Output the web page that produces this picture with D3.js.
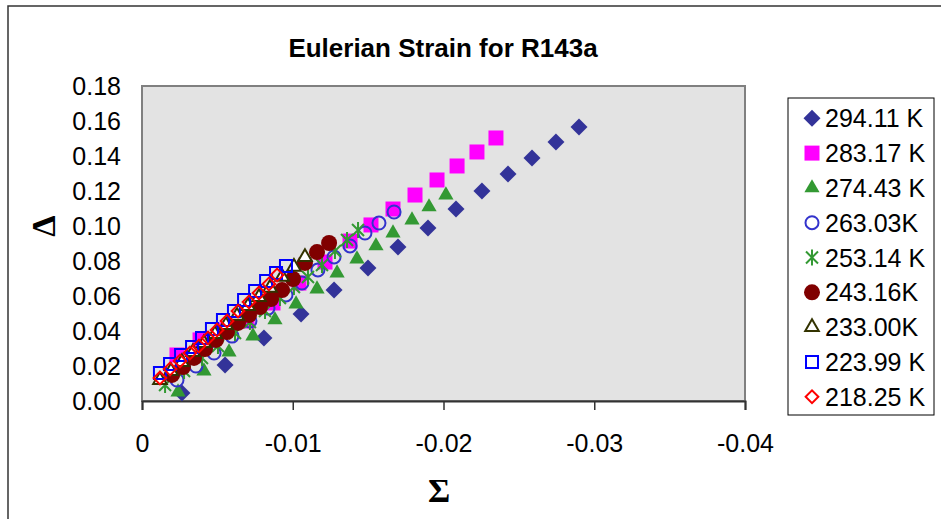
<!DOCTYPE html>
<html>
<head>
<meta charset="utf-8">
<script src="https://cdn.jsdelivr.net/npm/d3@7"></script>
<style>
  body { margin: 0; background: #fff; }
  svg text { font-family: "Liberation Sans", Arial, sans-serif; }
</style>
</head>
<body>
<svg id="chart" width="941" height="519"></svg>
<script>
// series labels (legend order = drawing order)
var labels = ["294.11 K", "283.17 K", "274.43 K", "263.03K", "253.14 K",
              "243.16K", "233.00K", "223.99 K", "218.25 K"];

// Sigma (x) and Delta (y) values, one pair per temperature
var sigma294 = [-0.00265, -0.00551, -0.00809, -0.01055, -0.01274, -0.01499, -0.01698,
                -0.01897, -0.02083, -0.02255, -0.02428, -0.02587, -0.02746, -0.02899];
var delta294 = [0.0046, 0.0206, 0.0360, 0.0497, 0.0634, 0.0760, 0.0880,
                0.0989, 0.1097, 0.1200, 0.1297, 0.1389, 0.1480, 0.1566];

var sigma283 = [-0.00232, -0.00385, -0.00544, -0.00697, -0.00869, -0.01041, -0.01214, -0.0138,
                -0.01519, -0.01665, -0.01811, -0.01957, -0.0209, -0.02222, -0.02348];
var delta283 = [0.0263, 0.0349, 0.0406, 0.0457, 0.0560, 0.0674, 0.0794, 0.0914,
                0.1006, 0.1097, 0.1177, 0.1263, 0.1343, 0.1423, 0.1503];

var sigma274 = [-0.00239, -0.00411, -0.00577, -0.00736, -0.00882, -0.01022, -0.01161,
                -0.01294, -0.01426, -0.01552, -0.01665, -0.01791, -0.01904, -0.02016];
var delta274 = [0.0051, 0.0171, 0.0280, 0.0371, 0.0463, 0.0554, 0.0640,
                0.0731, 0.0811, 0.0886, 0.0960, 0.1034, 0.1109, 0.1177];

var sigma263 = [-0.00232, -0.00358, -0.00478, -0.00597, -0.00716, -0.00836, -0.00955,
                -0.01061, -0.01167, -0.01274, -0.0138, -0.01479, -0.01572, -0.01672];
var delta263 = [0.0120, 0.0200, 0.0274, 0.0371, 0.0457, 0.0531, 0.0606,
                0.0674, 0.0749, 0.0823, 0.0886, 0.0960, 0.1017, 0.1080];

var sigma253 = [-0.00153, -0.00279, -0.00398, -0.00504, -0.00617, -0.00716, -0.00816,
                -0.00915, -0.01008, -0.01101, -0.01194, -0.0128, -0.0136, -0.01433];
var delta253 = [0.0091, 0.0171, 0.0246, 0.0314, 0.0389, 0.0451, 0.0514,
                0.0589, 0.0651, 0.0709, 0.0777, 0.0857, 0.0920, 0.0977];

var sigma243 = [-0.00199, -0.00272, -0.00345, -0.00418, -0.00491, -0.00564, -0.00637, -0.0071,
                -0.00783, -0.00856, -0.00929, -0.01002, -0.01081, -0.01161, -0.01241];
var delta243 = [0.0149, 0.0194, 0.0246, 0.0297, 0.0349, 0.0394, 0.0446, 0.0491,
                0.0537, 0.0583, 0.0634, 0.0697, 0.0789, 0.0851, 0.0903];

var sigma233 = [-0.00119, -0.00192, -0.00265, -0.00338, -0.00411, -0.00484, -0.00557,
                -0.0063, -0.00703, -0.00776, -0.00849, -0.00929, -0.01008, -0.01081];
var delta233 = [0.0120, 0.0171, 0.0223, 0.0280, 0.0331, 0.0383, 0.0434,
                0.0486, 0.0543, 0.0594, 0.0646, 0.0709, 0.0766, 0.0823];

var sigma224 = [-0.00119, -0.00186, -0.00259, -0.00332, -0.00398, -0.00464, -0.00537,
                -0.0061, -0.00677, -0.0075, -0.00823, -0.00889, -0.00955];
var delta224 = [0.0160, 0.0211, 0.0263, 0.0309, 0.0360, 0.0411, 0.0463,
                0.0514, 0.0577, 0.0629, 0.0686, 0.0731, 0.0771];

var sigma218 = [-0.00119, -0.00186, -0.00252, -0.00318, -0.00378, -0.00438, -0.00498,
                -0.00564, -0.00637, -0.0071, -0.00776, -0.00842, -0.00896];
var delta218 = [0.0131, 0.0183, 0.0229, 0.0274, 0.0314, 0.0360, 0.0406,
                0.0457, 0.0514, 0.0566, 0.0617, 0.0669, 0.0720];

var xTicks = [0, -0.01, -0.02, -0.03, -0.04];
var yTicks = [0, 0.02, 0.04, 0.06, 0.08, 0.10, 0.12, 0.14, 0.16, 0.18];

// marker look per series
var markers = [
  {shape: "diamond",  size: 144, fill: "#333399", stroke: "none"},
  {shape: "square",   size: 225, fill: "#ff00ff", stroke: "none"},
  {shape: "triangle", size: 100, fill: "#339933", stroke: "none"},
  {shape: "circle",   size: 133, fill: "none",    stroke: "#3333cc"},
  {shape: "star",     size: 256, fill: "none",    stroke: "#339933"},
  {shape: "circle",   size: 201, fill: "#800000", stroke: "none"},
  {shape: "triangle", size: 80,  fill: "#ffffff", stroke: "#333300"},
  {shape: "square",   size: 144, fill: "none",    stroke: "#0000ff"},
  {shape: "diamond",  size: 81,  fill: "none",    stroke: "#ff0000"}
];

var xs = [sigma294, sigma283, sigma274, sigma263, sigma253, sigma243, sigma233, sigma224, sigma218];
var ys = [delta294, delta283, delta274, delta263, delta253, delta243, delta233, delta224, delta218];

var series = labels.map(function(l, i) {
  return {label: l, m: markers[i], points: xs[i].map(function(v, j) { return {x: v, y: ys[i][j]}; })};
});

// asterisk: vertical bar plus an X
var symbolStar = {
  draw: function(ctx, size) {
    var r = Math.sqrt(size) / 2, d = r * 0.75;
    ctx.moveTo(0, -r); ctx.lineTo(0, r);
    ctx.moveTo(-d, -d); ctx.lineTo(d, d);
    ctx.moveTo(-d, d); ctx.lineTo(d, -d);
  }
};

function markerPath(m) {
  var t = {diamond: d3.symbolSquare, square: d3.symbolSquare, triangle: d3.symbolTriangle,
           circle: d3.symbolCircle, star: symbolStar}[m.shape];
  return d3.symbol().type(t).size(m.size)();
}

var svg = d3.select("#chart");
var plotLeft = 142, plotRight = 745, plotTop = 86, plotBottom = 401;

var x = d3.scaleLinear().domain([0, -0.04]).range([plotLeft, plotRight]);
var y = d3.scaleLinear().domain([0, 0.18]).range([plotBottom, plotTop]);

// outer chart frame
svg.append("rect")
    .attr("x", 8).attr("y", 6)
    .attr("width", 1000).attr("height", 1000)
    .style("fill", "none").style("stroke", "#333").style("stroke-width", 1.5);

// plot area
svg.append("rect")
    .attr("x", plotLeft).attr("y", plotTop)
    .attr("width", plotRight - plotLeft).attr("height", plotBottom - plotTop)
    .style("fill", "#e3e3e3").style("stroke", "#808080").style("stroke-width", 2);

svg.append("text")
    .attr("x", 443).attr("y", 57)
    .attr("text-anchor", "middle")
    .style("font-size", "26px").style("font-weight", "bold")
    .text("Eulerian Strain for R143a");

var xAxis = svg.append("g")
    .attr("transform", "translate(0," + plotBottom + ")")
    .call(d3.axisBottom(x).tickValues(xTicks).tickSize(9).tickPadding(24)
      .tickFormat(function(d) { return d === 0 ? "0" : d.toFixed(2); }));
xAxis.select(".domain").style("stroke", "#333").style("stroke-width", 2);
xAxis.selectAll(".tick line").style("stroke", "#333").style("stroke-width", 1.5);
xAxis.selectAll("text").style("font-size", "25px").style("font-family", "Liberation Sans, Arial, sans-serif").style("fill", "#000");

var yAxis = svg.append("g")
    .attr("transform", "translate(" + plotLeft + ",0)")
    .call(d3.axisLeft(y).tickValues(yTicks).tickSize(0).tickPadding(21)
      .tickFormat(function(d) { return d.toFixed(2); }));
yAxis.select(".domain").remove();
yAxis.selectAll("text").style("font-size", "25px").style("font-family", "Liberation Sans, Arial, sans-serif").style("fill", "#000");

// axis titles
svg.append("text")
    .attr("transform", "translate(55,226) rotate(-90)")
    .attr("text-anchor", "middle")
    .style("font-family", "Liberation Serif, Times New Roman, serif")
    .style("font-size", "34px").style("font-weight", "bold")
    .text("Δ");
svg.append("text")
    .attr("x", 439).attr("y", 502)
    .attr("text-anchor", "middle")
    .style("font-family", "Liberation Serif, Times New Roman, serif")
    .style("font-size", "34px").style("font-weight", "bold")
    .text("Σ");

// points
var groups = svg.append("g").selectAll(".series")
    .data(series)
    .enter().append("g")
    .attr("class", "series");

groups.selectAll("path")
    .data(function(d) { return d.points.map(function(p) { return {p: p, m: d.m}; }); })
    .enter().append("path")
    .attr("d", function(d) { return markerPath(d.m); })
    .attr("transform", function(d) {
      return "translate(" + x(d.p.x) + "," + y(d.p.y) + ")" + (d.m.shape === "diamond" ? " rotate(45)" : "");
    })
    .style("fill", function(d) { return d.m.fill; })
    .style("stroke", function(d) { return d.m.stroke; })
    .style("stroke-width", 2);

// legend
svg.append("rect")
    .attr("x", 788).attr("y", 98)
    .attr("width", 146).attr("height", 317)
    .style("fill", "#fff").style("stroke", "#000").style("stroke-width", 1);

var leg = svg.append("g").selectAll(".leg")
    .data(series)
    .enter().append("g")
    .attr("transform", function(d, i) { return "translate(812," + (118.3 + i * 34.8) + ")"; });

leg.append("path")
    .attr("d", function(d) { return markerPath(d.m); })
    .attr("transform", function(d) { return d.m.shape === "diamond" ? "rotate(45)" : null; })
    .style("fill", function(d) { return d.m.fill; })
    .style("stroke", function(d) { return d.m.stroke; })
    .style("stroke-width", 2);

leg.append("text")
    .attr("x", 13).attr("dy", "0.36em")
    .style("font-size", "25px")
    .text(function(d) { return d.label; });
</script>
</body>
</html>
